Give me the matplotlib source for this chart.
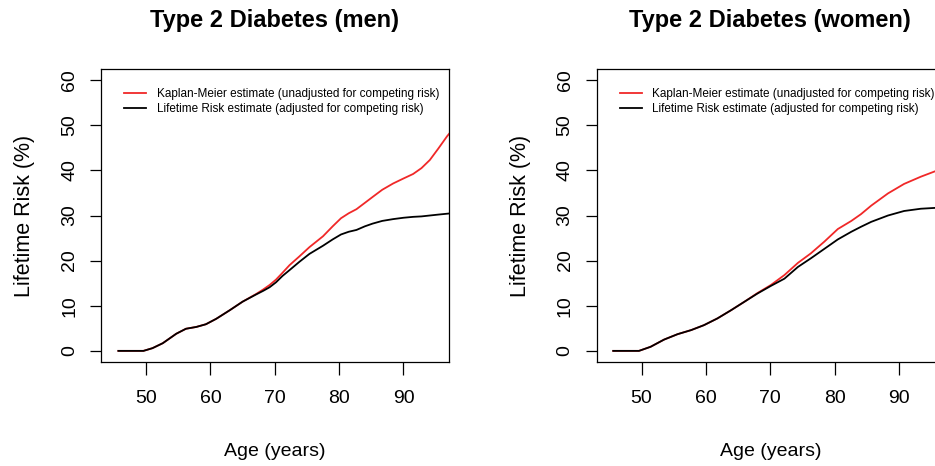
import matplotlib
matplotlib.use("Agg")
import matplotlib.pyplot as plt

plt.rcParams['font.family'] = ['Liberation Sans', 'DejaVu Sans']

# ---- data ----
x_ticks = [50, 60, 70, 80, 90]
y_ticks = [0, 10, 20, 30, 40, 50, 60]

age_men = [45.7, 49.6, 51.0, 52.6, 54.7, 56.2, 57.8, 59.3, 60.9, 63.0, 65.0, 67.1,
           68.2, 69.2, 70.2, 71.2, 72.3, 73.8, 75.4, 77.5, 79.0, 80.3, 81.5, 82.7, 84.0,
           85.2, 86.7, 88.4, 90.0, 91.5, 92.8, 94.1, 95.4, 96.8, 97.5]
km_men = [0, 0, 0.6, 1.7, 3.8, 4.9, 5.3, 5.9, 7.1, 9.0, 10.9, 12.6,
          13.6, 14.6, 15.8, 17.3, 19.0, 20.9, 23.0, 25.4, 27.6, 29.4, 30.5, 31.4, 32.8,
          34.1, 35.7, 37.1, 38.2, 39.2, 40.5, 42.3, 44.8, 47.6, 48.8]
lr_men = [0, 0, 0.6, 1.7, 3.8, 4.9, 5.3, 5.9, 7.1, 9.0, 10.9, 12.5,
          13.3, 14.1, 15.2, 16.6, 17.9, 19.7, 21.5, 23.3, 24.7, 25.8, 26.4, 26.8, 27.6,
          28.2, 28.8, 29.2, 29.5, 29.7, 29.8, 30.0, 30.2, 30.4, 30.5]

age_women = [45.6, 49.6, 51.4, 53.5, 55.6, 57.7, 59.7, 61.8, 63.9, 66.0, 68.0, 70.1,
             72.2, 74.3, 76.3, 78.4, 80.5, 82.6, 84.1, 85.7, 88.3, 90.8, 93.4, 95.8, 97.5]
km_women = [0, 0, 0.9, 2.5, 3.7, 4.6, 5.7, 7.2, 9.0, 10.9, 12.8, 14.6,
            16.8, 19.5, 21.6, 24.2, 27.0, 28.8, 30.3, 32.2, 34.9, 37.0, 38.6, 39.9, 40.7]
lr_women = [0, 0, 0.9, 2.5, 3.7, 4.6, 5.7, 7.2, 9.0, 10.9, 12.7, 14.4,
            16.0, 18.6, 20.5, 22.6, 24.7, 26.4, 27.5, 28.6, 30.0, 31.0, 31.5, 31.7, 31.8]

titles = ["Type 2 Diabetes (men)", "Type 2 Diabetes (women)"]
km_label = "Kaplan-Meier estimate (unadjusted for competing risk)"
lr_label = "Lifetime Risk estimate (adjusted for competing risk)"
x_label = "Age (years)"
y_label = "Lifetime Risk (%)"

RED = "#f02828"

fig = plt.figure(figsize=(9.35, 4.66), dpi=100)
W, H = 935.0, 466.0
panels = [
    (101.0, age_men, km_men, lr_men, titles[0]),
    (596.5, age_women, km_women, lr_women, titles[1]),
]
top_px, bot_px, width_px = 69.3, 361.7, 347.5

for left_px, ages, km, lr, title in panels:
    ax = fig.add_axes([left_px / W, 1 - bot_px / H, width_px / W, (bot_px - top_px) / H])
    ax.plot(ages, km, color=RED, lw=1.3, label=km_label)
    ax.plot(ages, lr, color="black", lw=1.3, label=lr_label)
    ax.set_xlim(43.0, 97.0)
    ax.set_ylim(-2.4, 62.4)
    ax.set_xticks(x_ticks)
    ax.set_yticks(y_ticks)
    for s in ax.spines.values():
        s.set_linewidth(0.9)
        s.set_color("black")
    ax.tick_params(axis='x', direction='out', length=9, width=0.9, pad=11.5, labelsize=14)
    ax.tick_params(axis='y', direction='out', length=8, width=0.9, pad=8.5, labelsize=14)
    for lab in ax.get_yticklabels():
        lab.set_rotation(90)
        lab.set_va('center')
    ax.set_xlabel(x_label, fontsize=14, va='center')
    ax.xaxis.set_label_coords(0.5, (bot_px - 451) / (bot_px - top_px))
    ax.set_ylabel(y_label, fontsize=15.5, va='center')
    ax.yaxis.set_label_coords((25 - 101) / width_px, 0.5)
    ax.text(0.5, (bot_px - 21) / (bot_px - top_px), title, transform=ax.transAxes,
            ha='center', va='center', fontsize=17, fontweight='bold')
    ax.legend(loc='upper left', bbox_to_anchor=(0.067, 0.936), frameon=False,
              fontsize=8.5, borderpad=0, borderaxespad=0, handlelength=1.85,
              handletextpad=0.9, labelspacing=0.25)

fig.savefig("out.png", dpi=100)
